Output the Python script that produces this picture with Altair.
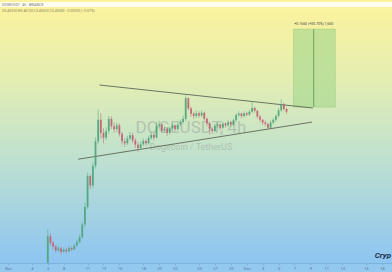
import altair as alt
import pandas as pd

# ---- data (DOGEUSDT, 8h-granularity approximation) ----
start = "2024-11-06 00:00"
first_open = 0.128
closes = [0.190, 0.176, 0.168, 0.160, 0.164, 0.157, 0.161, 0.158, 0.165, 0.162,
          0.170, 0.178, 0.188, 0.215, 0.252, 0.318, 0.298, 0.340, 0.392, 0.438,
          0.410, 0.400, 0.414, 0.440, 0.424, 0.418, 0.426, 0.408, 0.392, 0.388,
          0.398, 0.405, 0.394, 0.385, 0.378, 0.386, 0.393, 0.388, 0.399, 0.406,
          0.400, 0.425, 0.428, 0.415, 0.419, 0.410, 0.420, 0.426, 0.418, 0.428,
          0.433, 0.440, 0.484, 0.462, 0.451, 0.446, 0.452, 0.447, 0.453, 0.440,
          0.430, 0.419, 0.414, 0.425, 0.428, 0.421, 0.430, 0.426, 0.433, 0.428,
          0.437, 0.448, 0.451, 0.446, 0.452, 0.449, 0.455, 0.463, 0.457, 0.445,
          0.438, 0.432, 0.429, 0.421, 0.432, 0.438, 0.446, 0.458, 0.471, 0.461,
          0.455]
highs = [0.205, 0.196, 0.180, 0.171, 0.170, 0.168, 0.166, 0.165, 0.170, 0.168,
         0.174, 0.183, 0.194, 0.220, 0.262, 0.325, 0.322, 0.348, 0.400, 0.460,
         0.452, 0.420, 0.422, 0.446, 0.445, 0.432, 0.432, 0.430, 0.412, 0.398,
         0.404, 0.412, 0.410, 0.399, 0.390, 0.392, 0.398, 0.396, 0.404, 0.412,
         0.410, 0.432, 0.436, 0.430, 0.424, 0.421, 0.424, 0.431, 0.428, 0.432,
         0.438, 0.447, 0.492, 0.486, 0.466, 0.455, 0.458, 0.456, 0.458, 0.455,
         0.443, 0.432, 0.422, 0.429, 0.433, 0.430, 0.434, 0.432, 0.437, 0.436,
         0.441, 0.452, 0.456, 0.453, 0.456, 0.455, 0.459, 0.476, 0.466, 0.459,
         0.448, 0.440, 0.436, 0.431, 0.436, 0.442, 0.450, 0.463, 0.481, 0.474,
         0.464]
lows = [0.128, 0.170, 0.162, 0.155, 0.157, 0.152, 0.155, 0.153, 0.156, 0.158,
        0.160, 0.167, 0.175, 0.184, 0.210, 0.248, 0.290, 0.292, 0.334, 0.386,
        0.398, 0.388, 0.395, 0.408, 0.418, 0.410, 0.412, 0.402, 0.385, 0.380,
        0.384, 0.394, 0.389, 0.378, 0.370, 0.374, 0.382, 0.382, 0.385, 0.395,
        0.394, 0.398, 0.420, 0.410, 0.411, 0.404, 0.406, 0.415, 0.413, 0.414,
        0.424, 0.430, 0.436, 0.458, 0.444, 0.440, 0.442, 0.442, 0.444, 0.436,
        0.424, 0.406, 0.408, 0.411, 0.420, 0.416, 0.418, 0.421, 0.423, 0.424,
        0.425, 0.434, 0.444, 0.441, 0.443, 0.445, 0.446, 0.452, 0.453, 0.441,
        0.433, 0.427, 0.424, 0.417, 0.419, 0.428, 0.434, 0.443, 0.455, 0.457,
        0.450]

upper_t = ["2024-11-12T12:00:00", "2024-12-09T07:00:00"]
upper_p = [0.512, 0.463]
lower_t = ["2024-11-09T19:30:00", "2024-12-09T04:30:00"]
lower_p = [0.354, 0.433]

box_t = ["2024-12-06T21:00:00", "2024-12-12T03:00:00"]
box_p = [0.465, 0.631]
box_mid_t = "2024-12-09T10:00:00"
box_label = "+0.1660 (+35.70%) 1,660"

tick_days = [(11, 1), (11, 4), (11, 6), (11, 8), (11, 11), (11, 13), (11, 15),
             (11, 18), (11, 20), (11, 22), (11, 25), (11, 27), (11, 29),
             (12, 1), (12, 3), (12, 5), (12, 7), (12, 9), (12, 11), (12, 13),
             (12, 16), (12, 18)]

# ---- tables ----
times = pd.date_range(start, periods=len(closes), freq="8h")
opens = [first_open] + closes[:-1]
candles = pd.DataFrame({
    "t": times.strftime("%Y-%m-%dT%H:%M:%S"),
    "open": opens, "close": closes, "high": highs, "low": lows,
})
lines = pd.DataFrame({
    "t": [upper_t[0], lower_t[0]], "t2": [upper_t[1], lower_t[1]],
    "p": [upper_p[0], lower_p[0]], "p2": [upper_p[1], lower_p[1]],
})
box = pd.DataFrame({"t": [box_t[0]], "t2": [box_t[1]], "p": [box_p[0]],
                    "p2": [box_p[1]], "mid": [box_mid_t], "label": [box_label]})
one = pd.DataFrame({"a": [0]})

W, H = 392, 263
xscale = alt.Scale(domain=[alt.DateTime(year=2024, month=10, date=31, hours=15),
                           alt.DateTime(year=2024, month=12, date=18, hours=15)])
yscale = alt.Scale(domain=[0.133, 0.693], zero=False, nice=False)

xaxis = alt.Axis(
    values=[alt.DateTime(year=2024, month=m, date=d) for m, d in tick_days],
    labelExpr="date(datum.value) == 1 ? timeFormat(datum.value, '%b') : timeFormat(datum.value, '%-d')",
    labelFontSize=4, labelColor="#5f7a98", labelPadding=1.5, tickSize=1.5,
    tickColor="#7aa9cf", domainColor="#7fb2da", grid=False, title=None,
    labelFont="Roboto", labelFlush=False,
)

bg = alt.Chart(one).mark_rect(
    color=alt.Gradient(
        gradient="linear", x1=0, x2=0, y1=0, y2=1,
        stops=[alt.GradientStop(color="#fdf39c", offset=0),
               alt.GradientStop(color="#e4eeb2", offset=0.3),
               alt.GradientStop(color="#bfe1cf", offset=0.6),
               alt.GradientStop(color="#8dc5f2", offset=1)]),
).encode(x=alt.value(0), x2=alt.value(W), y=alt.value(0), y2=alt.value(H))

topband = alt.Chart(one).mark_rect(color="#ffffff", opacity=0.85).encode(
    x=alt.value(0), x2=alt.value(W), y=alt.value(2), y2=alt.value(7))
toptext1 = alt.Chart(one).mark_text(
    text="DOGEUSDT · 4h · BINANCE", fontSize=3.5, color="#777777",
    align="left", baseline="middle", font="Roboto").encode(
    x=alt.value(2), y=alt.value(4.5))
toptext2 = alt.Chart(one).mark_text(
    text="O0.45530 H0.46100 L0.45020 C0.45500 −0.00030 (−0.07%)", fontSize=3.5,
    color="#8a8a60", align="left", baseline="middle", font="Roboto").encode(
    x=alt.value(2), y=alt.value(11))

wm1 = alt.Chart(one).mark_text(
    text="DOGEUSDT, 4h", fontSize=17, color="#97a29a", opacity=0.5,
    align="center", baseline="middle", font="Roboto").encode(
    x=alt.value(191), y=alt.value(128))
wm2 = alt.Chart(one).mark_text(
    text="Dogecoin / TetherUS", fontSize=9, color="#97a29a", opacity=0.5,
    align="center", baseline="middle", font="Roboto").encode(
    x=alt.value(191), y=alt.value(147))
brand = alt.Chart(one).mark_text(
    text="Cryp", fontSize=8, fontWeight="bold", fontStyle="italic",
    color="#1d2c4c", align="right", baseline="middle", font="Roboto").encode(
    x=alt.value(391), y=alt.value(256))

base = alt.Chart(candles)
xenc = alt.X("t:T", scale=xscale, axis=xaxis)
color = alt.condition("datum.close >= datum.open", alt.value("#4fa57a"), alt.value("#c45f72"))
wicks = base.mark_rule(strokeWidth=0.6, clip=True, opacity=0.85).encode(
    x=xenc, y=alt.Y("low:Q", scale=yscale, axis=None), y2="high:Q", color=color)
bodies = base.mark_bar(size=1.8, clip=True, opacity=0.9).encode(
    x=xenc, y=alt.Y("open:Q", scale=yscale, axis=None), y2="close:Q", color=color)

trend = alt.Chart(lines).mark_rule(color="#5d6857", strokeWidth=0.9).encode(
    x=alt.X("t:T", scale=xscale, axis=xaxis), x2="t2:T",
    y=alt.Y("p:Q", scale=yscale, axis=None), y2="p2:Q")

boxrect = alt.Chart(box).mark_rect(color="#a9d98f", opacity=0.65,
                                   stroke="#86c06e", strokeWidth=0.6).encode(
    x=alt.X("t:T", scale=xscale, axis=xaxis), x2="t2:T",
    y=alt.Y("p:Q", scale=yscale, axis=None), y2="p2:Q")
boxline = alt.Chart(box).mark_rule(color="#5f8f55", strokeWidth=0.8).encode(
    x=alt.X("mid:T", scale=xscale, axis=xaxis),
    y=alt.Y("p:Q", scale=yscale, axis=None), y2="p2:Q")
boxtext = alt.Chart(box).mark_text(fontSize=3.5, color="#444444", dy=-5,
                                   font="Roboto").encode(
    x=alt.X("mid:T", scale=xscale, axis=xaxis),
    y=alt.Y("p2:Q", scale=yscale, axis=None), text="label:N")

chart = alt.layer(
    bg, topband, toptext1, toptext2, wm1, wm2, boxrect, boxline, boxtext,
    trend, wicks, bodies, brand,
).properties(
    width=W, height=H, autosize="none", background="#93c8ef",
    padding={"left": 0, "top": 0, "right": 0, "bottom": 9},
).configure_view(stroke=None)

chart.save("out.html", embed_options={"renderer": "svg", "actions": False})
